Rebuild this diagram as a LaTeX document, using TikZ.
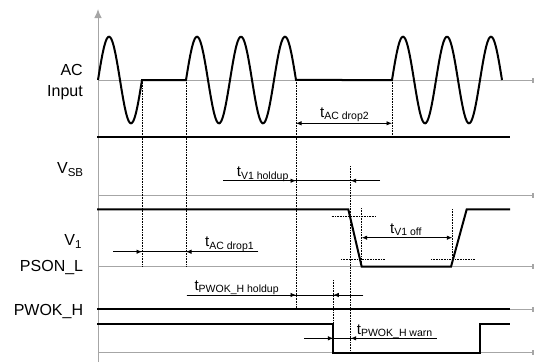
\documentclass[tikz,border=0pt]{standalone}
\usepackage{fontspec}
\setmainfont{Liberation Sans}
\usetikzlibrary{arrows.meta,positioning}

\newcommand{\tdelay}[1]{{\fontsize{15}{15}\selectfont t}\raisebox{-2.5pt}{\fontsize{10.5}{11}\selectfont #1}}
\newcommand{\vsig}[1]{V\raisebox{-3.2pt}{\fontsize{11.5}{12}\selectfont #1}}

\tikzset{
  sig/.style={line width=2pt, line join=miter},
  baseline/.style={gray!70, line width=1pt},
  guide/.style={densely dotted, line width=0.6pt},
  delay/.style={line width=0.8pt},
  siglabel/.style={font=\fontsize{16}{18}\selectfont, anchor=base east, inner sep=0pt},
  tlabel/.style={anchor=base west, inner sep=0pt}
}

\begin{document}
\begin{tikzpicture}[x=1pt, y=-1pt, >={Latex[length=5.5pt,width=4.5pt]}]
\useasboundingbox (0,0) rectangle (534,362);

% time marks
    \coordinate (acoff1) at (142,80);
    \coordinate (acon1) at (186,80);
    \coordinate (acoff2) at (296,80);
    \coordinate (acon2) at (392,80);

% axis and baselines
    \draw[baseline, -{Latex[length=9pt,width=7.5pt]}] (98,362) -- (98,9);
    \draw[baseline, -{Rectangle[length=2pt,width=5pt]}] (98,80) -- (534,80);
    \draw[baseline, -{Rectangle[length=2pt,width=5pt]}] (98,195) -- (534,195);
    \draw[baseline, -{Rectangle[length=2pt,width=5pt]}] (98,266.7) -- (534,266.7);
    \draw[baseline, -{Rectangle[length=2pt,width=5pt]}] (98,309.3) -- (534,309.3);
    \draw[baseline, -{Rectangle[length=2pt,width=5pt]}] (98,352.7) -- (534,352.7);

% dotted guides
    \draw[guide] (acoff1) -- (142,266.7);
    \draw[guide] (acon1) -- (186,266.7);
    \draw[guide] (acoff2) -- (296,309.3);
    \draw[guide] (acon2) -- (392,136.7);
    \draw[guide] (350.7,166) -- (350.7,352.7);
    \draw[guide] (333.3,280) -- (333.3,324);
    \draw[guide] (361.7,208) -- (361.7,266.7);
    \draw[guide] (452.3,209) -- (452.3,259.3);
    \draw[guide] (331.7,216.7) -- (376,216.7);
    \draw[guide] (341,259.3) -- (385,259.3);
    \draw[guide] (431,259.3) -- (475,259.3);

% signals
    \draw[sig] plot[domain=98:142, samples=80, smooth] (\x,{80-43.3*sin(8.1818*(\x-98))})
      -- (acon1)
      -- plot[domain=186:296, samples=160, smooth] (\x,{80-43.3*sin(8.1818*(\x-186))})
      -- (acon2)
      -- plot[domain=392:502, samples=160, smooth] (\x,{80-43.3*sin(8.1818*(\x-392))});
    \draw[sig] (97,136.7) -- (510,136.7);
    \draw[sig] (97,209.3) -- (348.3,209.3) -- (361.7,266.7) -- (451,266.7) -- (466.7,209.3) -- (510,209.3);
    \draw[sig] (97,309.3) -- (510,309.3);
    \draw[sig] (97,324) -- (333.3,324) -- (333.3,352.7) -- (480,352.7) -- (480,324) -- (510,324);

% signal names
    \node[siglabel] (ac) at (83,75.7) {AC};
    \node[siglabel] (input) at (83,96) {Input};
    \node[siglabel] (vsb) at (83.3,173.3) {\vsig{SB}};
    \node[siglabel] (vone) at (81.7,245.5) {\vsig{1}};
    \node[siglabel] (pson) at (83.3,271.7) {PSON\_L};
    \node[siglabel] (pwok) at (83.3,315) {PWOK\_H};

% t_AC drop2
    \coordinate (d2a) at (296,123.3);
    \coordinate (d2b) at (392,123.3);
    \draw[delay, <->] (d2a) -- (d2b);
    \node[tlabel] (tacdrop2) at (320,117.3) {\tdelay{AC drop2}};

% t_V1 holdup
    \coordinate (h1a) at (223.3,180.7);
    \coordinate (h1b) at (380,180.7);
    \coordinate (h1l) at (296,180.7);
    \coordinate (h1r) at (350.7,180.7);
    \draw[delay] (h1a) -- (h1b);
    \draw[delay, ->] (h1a) -- (h1l);
    \draw[delay, ->] (h1b) -- (h1r);
    \node[tlabel] (tvholdup) at (236.7,176.7) {\tdelay{V1 holdup}};

% t_AC drop1
    \coordinate (d1a) at (113.3,251.7);
    \coordinate (d1b) at (258.3,251.7);
    \coordinate (d1l) at (142,251.7);
    \coordinate (d1r) at (186,251.7);
    \draw[delay] (d1a) -- (d1b);
    \draw[delay, ->] (d1a) -- (d1l);
    \draw[delay, ->] (d1b) -- (d1r);
    \node[tlabel] (tacdrop1) at (205,246.7) {\tdelay{AC drop1}};

% t_V1 off
    \coordinate (offa) at (361.7,237.7);
    \coordinate (offb) at (452.3,237.7);
    \draw[delay, <->] (offa) -- (offb);
    \node[tlabel] (tvoff) at (390,233) {\tdelay{V1 off}};

% t_PWOK_H holdup
    \coordinate (h2a) at (186.7,295);
    \coordinate (h2b) at (363.3,295);
    \coordinate (h2l) at (296,295);
    \coordinate (h2r) at (333.3,295);
    \draw[delay] (h2a) -- (h2b);
    \draw[delay, ->] (h2a) -- (h2l);
    \draw[delay, ->] (h2b) -- (h2r);
    \node[tlabel] (tpwholdup) at (194.3,290) {\tdelay{PWOK\_H holdup}};

% t_PWOK_H warn
    \coordinate (wa) at (304,338.3);
    \coordinate (wb) at (436.7,338.3);
    \coordinate (wl) at (333.3,338.3);
    \coordinate (wr) at (350.7,338.3);
    \draw[delay] (wa) -- (wb);
    \draw[delay, ->] (wa) -- (wl);
    \draw[delay, ->] (wb) -- (wr);
    \node[tlabel] (tpwwarn) at (356.7,334) {\tdelay{PWOK\_H warn}};

\end{tikzpicture}
\end{document}
